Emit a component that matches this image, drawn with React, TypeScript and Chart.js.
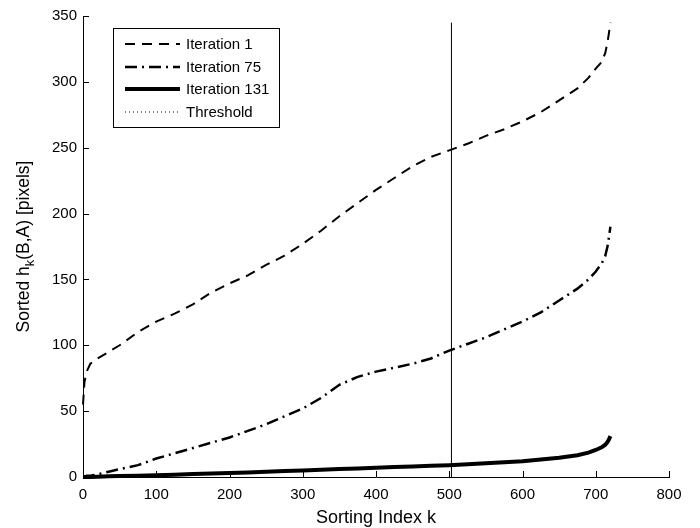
import React, { useEffect, useRef } from "react";
import { Chart, registerables } from "chart.js";

Chart.register(...registerables);

// Sorting index k at which each curve is sampled
const sortIdx = [0, 2, 5, 10, 20, 35, 50, 75, 100, 125, 150, 175, 200, 225, 250, 275, 300, 325, 350, 375, 400, 425, 450, 475, 500, 525, 550, 575, 600, 625, 650, 675, 690, 700, 708, 713, 716, 718, 720];

// Sorted h_k(B,A) in pixels for each iteration
const iter1 = [55, 72, 80, 86, 90, 95, 100, 110, 118, 124, 131, 140, 147, 153, 161, 168, 177, 187, 198, 208, 218, 227, 236, 243, 248, 253, 259, 264, 270, 277, 286, 295, 303, 310, 315, 322, 330, 337, 345];
const iter75 = [0, 0, 1, 1, 2, 4, 6, 9, 14, 18, 22, 26, 30, 35, 40, 46, 52, 60, 70, 76, 80, 83, 86, 90, 96, 101, 106, 112, 118, 125, 134, 143, 150, 156, 162, 168, 175, 182, 190];
const iter131 = [0, 0, 0, 0, 0.2, 0.5, 0.7, 1, 1.3, 1.8, 2.2, 2.6, 3, 3.5, 4, 4.5, 5, 5.5, 6, 6.5, 7, 7.5, 8, 8.5, 9, 9.7, 10.4, 11.2, 12, 13.3, 14.6, 16.5, 18.5, 20.5, 22.5, 24.5, 26.5, 28.5, 31];

// Threshold index and its vertical extent
const thresholdK = 503;
const thresholdSpan = [0, 345];

const xTicks = [0, 100, 200, 300, 400, 500, 600, 700, 800];
const yTicks = [0, 50, 100, 150, 200, 250, 300, 350];

const seriesNames = ["Iteration 1", "Iteration 75", "Iteration 131", "Threshold"];

const FONT = '"Liberation Sans", Arial, Helvetica, sans-serif';

const pts = (ys: number[]) => sortIdx.map((k, i) => ({ x: k, y: ys[i] }));

const styles = [
  { width: 2, dash: [10, 7] },
  { width: 2.5, dash: [12, 5, 2, 5] },
  { width: 4, dash: [] as number[] },
  { width: 1, dash: [1, 3] },
];

const decorPlugin = {
  id: "decor",
  afterDraw(chart: any) {
    const ctx = chart.ctx as CanvasRenderingContext2D;
    const { left, right, top, bottom } = chart.chartArea;
    const xs = chart.scales.x;
    const ys = chart.scales.y;
    ctx.save();
    // inward tick marks
    ctx.strokeStyle = "#000";
    ctx.lineWidth = 1;
    ctx.beginPath();
    xTicks.forEach((v) => {
      const px = Math.round(xs.getPixelForValue(v)) + 0.5;
      ctx.moveTo(px, bottom);
      ctx.lineTo(px, bottom - 6);
    });
    yTicks.forEach((v) => {
      const py = Math.round(ys.getPixelForValue(v)) + 0.5;
      ctx.moveTo(left, py);
      ctx.lineTo(left + 6, py);
    });
    ctx.stroke();

    // axis titles
    ctx.fillStyle = "#000";
    ctx.font = `18px ${FONT}`;
    ctx.textAlign = "center";
    ctx.textBaseline = "middle";
    ctx.fillText("Sorting Index k", (left + right) / 2, 518);

    ctx.translate(24, (top + bottom) / 2);
    ctx.rotate(-Math.PI / 2);
    const a = "Sorted h";
    const b = "k";
    const c = "(B,A) [pixels]";
    ctx.font = `17.5px ${FONT}`;
    const wa = ctx.measureText(a).width;
    const wc = ctx.measureText(c).width;
    ctx.font = `13px ${FONT}`;
    const wb = ctx.measureText(b).width;
    const total = wa + wb + wc;
    let x0 = -total / 2;
    ctx.textAlign = "left";
    ctx.font = `17.5px ${FONT}`;
    ctx.fillText(a, x0, 0);
    x0 += wa;
    ctx.font = `13px ${FONT}`;
    ctx.fillText(b, x0, 6);
    x0 += wb;
    ctx.font = `17.5px ${FONT}`;
    ctx.fillText(c, x0, 0);
    ctx.restore();

    // legend
    ctx.save();
    const bx = 113.5, by = 28.5, bw = 166, bh = 99;
    ctx.fillStyle = "#fff";
    ctx.fillRect(bx, by, bw, bh);
    ctx.strokeStyle = "#000";
    ctx.lineWidth = 1;
    ctx.setLineDash([]);
    ctx.strokeRect(bx, by, bw, bh);
    const rows = [44, 67, 89, 112];
    seriesNames.forEach((name, i) => {
      const st = styles[i];
      ctx.beginPath();
      ctx.lineWidth = st.width;
      ctx.setLineDash(st.dash);
      ctx.moveTo(125, rows[i]);
      ctx.lineTo(180, rows[i]);
      ctx.stroke();
      ctx.setLineDash([]);
      ctx.fillStyle = "#000";
      ctx.font = `15px ${FONT}`;
      ctx.textAlign = "left";
      ctx.textBaseline = "middle";
      ctx.fillText(name, 186, rows[i] + 1);
    });
    ctx.restore();
  },
};

export default function App() {
  const ref = useRef<HTMLCanvasElement>(null);
  useEffect(() => {
    if (!ref.current) return;
    const chart = new Chart(ref.current, {
      type: "line",
      data: {
        datasets: [
          {
            label: seriesNames[0],
            data: pts(iter1),
            borderColor: "#000",
            borderWidth: styles[0].width,
            borderDash: styles[0].dash,
            pointRadius: 0,
            tension: 0,
            clip: false,
          },
          {
            label: seriesNames[1],
            data: pts(iter75),
            borderColor: "#000",
            borderWidth: styles[1].width,
            borderDash: styles[1].dash,
            pointRadius: 0,
            tension: 0,
            clip: false,
          },
          {
            label: seriesNames[2],
            data: pts(iter131),
            borderColor: "#000",
            borderWidth: styles[2].width,
            pointRadius: 0,
            tension: 0,
            clip: false,
          },
          {
            label: seriesNames[3],
            data: thresholdSpan.map((y) => ({ x: thresholdK, y })),
            borderColor: "#000",
            borderWidth: 1,
            pointRadius: 0,
            tension: 0,
          },
        ],
      },
      options: {
        responsive: false,
        animation: false,
        devicePixelRatio: 1,
        layout: { padding: { left: 0, right: 31, top: 16, bottom: 0 } },
        plugins: { legend: { display: false }, tooltip: { enabled: false } },
        scales: {
          x: {
            type: "linear",
            min: 0,
            max: 800,
            afterFit: (s: any) => {
              s.height = 51;
            },
            afterBuildTicks: (s: any) => {
              s.ticks = xTicks.map((v) => ({ value: v }));
            },
            ticks: { color: "#000", font: { family: FONT, size: 15 }, padding: 9, maxRotation: 0 },
            grid: { display: false, drawTicks: false },
            border: { display: true, color: "#000", width: 1 },
          },
          y: {
            type: "linear",
            min: 0,
            max: 350,
            afterFit: (s: any) => {
              s.width = 83;
            },
            afterBuildTicks: (s: any) => {
              s.ticks = yTicks.map((v) => ({ value: v }));
            },
            ticks: { color: "#000", font: { family: FONT, size: 15 }, padding: 6 },
            grid: { display: false, drawTicks: false },
            border: { display: true, color: "#000", width: 1 },
          },
        },
      },
      plugins: [decorPlugin],
    });
    return () => chart.destroy();
  }, []);
  return (
    <div style={{ position: "fixed", left: 0, top: 0, width: 700, height: 528, background: "#fff" }}>
      <canvas ref={ref} width={700} height={528} style={{ width: 700, height: 528, display: "block" }} />
    </div>
  );
}
